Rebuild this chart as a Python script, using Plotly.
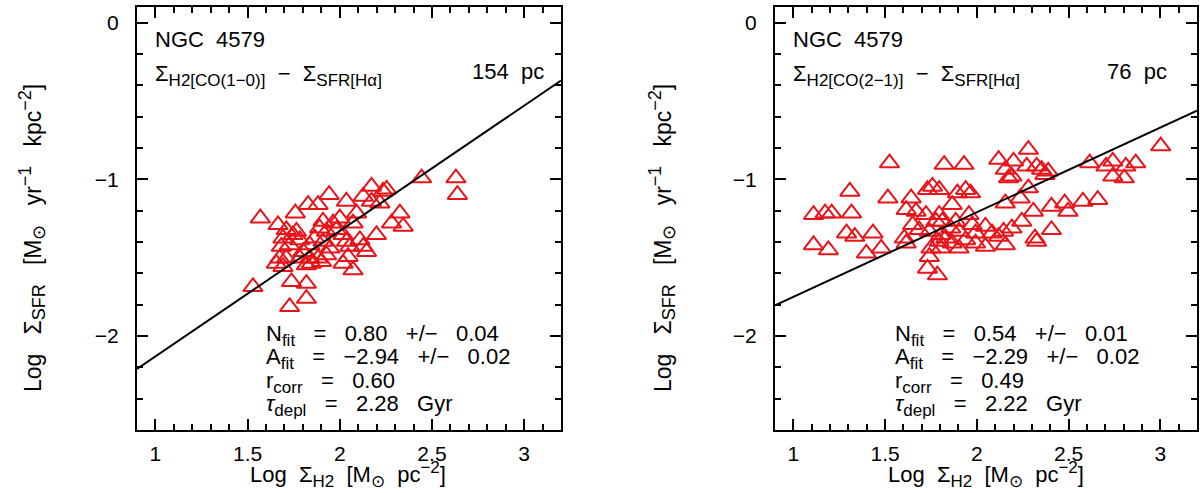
import plotly.graph_objects as go

# ---------------- data ----------------
# Left panel: CO(1-0), 154 pc
left_x = [1.569, 1.529, 1.728, 1.819, 1.738, 1.819, 1.665, 1.759, 1.828, 1.882,
          1.942, 2.036, 2.127, 2.172, 2.235, 2.254, 2.172, 2.217, 2.444, 2.630,
          2.638, 2.326, 2.281, 2.344, 2.199, 2.091, 2.072, 2.000, 1.964, 1.909,
          1.891, 1.928, 1.982, 2.018, 2.036, 2.109, 2.127, 2.145, 2.054, 2.045,
          2.018, 2.072, 1.946, 1.909, 1.864, 1.837, 1.801, 1.837, 1.882, 1.928,
          1.783, 1.746, 1.710, 1.692, 1.728, 1.765, 1.783, 1.683, 1.674, 1.656,
          1.710, 1.692, 1.819, 1.846, 1.901]
left_y = [-1.248, -1.686, -1.814, -1.761, -1.654, -1.665, -1.290, -1.216, -1.162, -1.162,
          -1.098, -1.141, -1.109, -1.045, -1.077, -1.064, -1.141, -1.152, -0.992, -0.992,
          -1.098, -1.216, -1.280, -1.301, -1.354, -1.216, -1.280, -1.248, -1.280, -1.269,
          -1.312, -1.333, -1.322, -1.354, -1.397, -1.387, -1.429, -1.462, -1.429, -1.494,
          -1.537, -1.579, -1.440, -1.397, -1.376, -1.419, -1.462, -1.504, -1.504, -1.483,
          -1.504, -1.354, -1.322, -1.376, -1.419, -1.333, -1.387, -1.429, -1.504, -1.537,
          -1.504, -1.558, -1.547, -1.537, -1.526]

# Right panel: CO(2-1), 76 pc
right_x = [1.110, 1.110, 1.191, 1.173, 1.209, 1.308, 1.317, 1.290, 1.335, 1.434,
           1.398, 1.479, 1.524, 1.515, 1.642, 1.615, 1.669, 1.605, 1.615, 1.731,
           1.758, 1.795, 1.822, 1.930, 1.894, 1.939, 1.966, 1.866, 1.723, 1.795,
           1.777, 1.812, 1.885, 1.957, 1.650, 1.686, 1.741, 1.804, 1.858, 1.903,
           1.975, 1.993, 2.047, 2.083, 1.795, 1.831, 1.866, 1.903, 1.939, 1.993,
           2.047, 2.119, 2.146, 2.191, 2.155, 1.750, 1.804, 1.741, 1.731, 1.785,
           2.119, 2.155, 2.200, 2.281, 2.272, 2.173, 2.191, 2.326, 2.353, 2.389,
           2.371, 2.281, 2.236, 2.155, 2.308, 2.245, 2.407, 2.317, 2.326, 2.407,
           2.479, 2.497, 2.578, 2.659, 2.615, 2.704, 2.741, 2.741, 2.804, 2.812,
           2.866, 3.002]
right_y = [-1.226, -1.419, -1.451, -1.216, -1.216, -1.077, -1.216, -1.344, -1.365, -1.344,
           -1.472, -1.440, -0.896, -1.120, -1.120, -1.194, -1.205, -1.376, -1.408, -1.066,
           -1.045, -1.066, -0.906, -0.906, -1.088, -1.066, -1.088, -1.162, -1.226, -1.226,
           -1.269, -1.269, -1.269, -1.226, -1.290, -1.322, -1.333, -1.354, -1.312, -1.333,
           -1.290, -1.344, -1.301, -1.344, -1.397, -1.376, -1.408, -1.440, -1.387, -1.408,
           -1.429, -1.365, -1.333, -1.312, -1.419, -1.440, -1.440, -1.494, -1.569, -1.611,
           -0.874, -0.938, -0.885, -0.810, -0.917, -0.992, -0.981, -0.917, -0.938, -0.949,
           -0.970, -1.056, -1.120, -1.152, -1.205, -1.269, -1.322, -1.376, -1.397, -1.173,
           -1.152, -1.205, -1.141, -1.130, -0.896, -0.917, -0.885, -0.981, -0.992, -0.917,
           -0.896, -0.788]

# fit parameters (slope N, intercept A)
left_fit = (0.80, -2.93)
right_fit = (0.54, -2.29)

x_range = [0.9, 3.2]
y_range = [-2.6, 0.1]
x_ticks = [1, 1.5, 2, 2.5, 3]
x_ticklabels = ["1", "1.5", "2", "2.5", "3"]
y_ticks = [0, -1, -2]

S = "\u00a0"
G2 = S + " "          # two-space gap
G3 = S + S + " "      # three-space gap


def sub(t, size=17):
    return f"<sub><span style='font-size:{size}px'>{t}</span></sub>"


def sup(t, size=17):
    return f"<sup><span style='font-size:{size}px'>{t}</span></sup>"


left_labels = [f"N{sub('fit')}{G3}={G3}0.80{G3}+/−{G3}0.04",
               f"A{sub('fit')}{G3}={G3}−2.94{G3}+/−{G3}0.02",
               f"r{sub('corr')}{G3}={G3}0.60",
               f"<i>τ</i>{sub('depl')}{G3}={G3}2.28{G3}Gyr"]
right_labels = [f"N{sub('fit')}{G3}={G3}0.54{G3}+/−{G3}0.01",
                f"A{sub('fit')}{G3}={G3}−2.29{G3}+/−{G3}0.02",
                f"r{sub('corr')}{G3}={G3}0.49",
                f"<i>τ</i>{sub('depl')}{G3}={G3}2.22{G3}Gyr"]
galaxy = f"NGC{G2}4579"
left_rel = f"Σ{sub('H2[CO(1−0)]')}{G2}−{G2}Σ{sub('SFR[Hα]')}"
right_rel = f"Σ{sub('H2[CO(2−1)]')}{G2}−{G2}Σ{sub('SFR[Hα]')}"
left_res = f"154{G2}pc"
right_res = f"76{G2}pc"
xtitle = f"Log{G2}Σ{sub('H2')}{G2}[M{sub('⊙')}{G2}pc{sup('−2')}]"
ytitle = (f"Log{G3}Σ{sub('SFR', 18)}{G3}[M{sub('⊙', 18)}{G3}yr{sup('−1', 18)}"
          f"{G3}kpc{sup('−2', 18)}]")

# ---------------- figure ----------------
W, H = 1200, 493
FONT = "Liberation Sans, Arial, Helvetica, sans-serif"
RED = "#e8141a"


def px(x):
    return x / W


def py(y):
    return 1 - y / H


fig = go.Figure()

for i, (xs, ys, fit) in enumerate([(left_x, left_y, left_fit), (right_x, right_y, right_fit)]):
    xa = "x" if i == 0 else "x2"
    ya = "y" if i == 0 else "y2"
    fig.add_trace(go.Scatter(x=xs, y=ys, mode="markers", xaxis=xa, yaxis=ya,
                             marker=dict(symbol="triangle-up-open", size=17, color=RED,
                                         line=dict(width=2, color=RED)),
                             showlegend=False, hoverinfo="skip"))
    lx = list(x_range)
    fig.add_trace(go.Scatter(x=lx, y=[fit[0] * v + fit[1] for v in lx], mode="lines",
                             xaxis=xa, yaxis=ya, line=dict(color="black", width=2),
                             showlegend=False, hoverinfo="skip"))

dom_y = [py(430), py(7)]
axis_common = dict(showline=True, linecolor="black", linewidth=2, mirror="ticks",
                   ticks="inside", ticklen=11, tickwidth=1.5, tickcolor="black",
                   showgrid=False, zeroline=False,
                   tickfont=dict(family=FONT, size=21, color="black"))
xaxis_common = dict(axis_common, range=x_range, tickvals=x_ticks, ticktext=x_ticklabels,
                    minor=dict(dtick=0.1, ticks="inside", ticklen=6, tickwidth=1.5,
                               tickcolor="black", showgrid=False),
                    ticklabelstandoff=4)
yaxis_common = dict(axis_common, range=y_range, tickvals=y_ticks,
                    minor=dict(dtick=0.2, ticks="inside", ticklen=6, tickwidth=1.5,
                               tickcolor="black", showgrid=False),
                    ticklabelstandoff=12)

fig.update_layout(
    width=W, height=H, margin=dict(l=0, r=0, t=0, b=0),
    paper_bgcolor="white", plot_bgcolor="white",
    font=dict(family=FONT, size=21, color="black"),
    xaxis=dict(xaxis_common, domain=[px(137), px(561)], anchor="y"),
    yaxis=dict(yaxis_common, domain=dom_y, anchor="x"),
    xaxis2=dict(xaxis_common, domain=[px(775), px(1197)], anchor="y2"),
    yaxis2=dict(yaxis_common, domain=dom_y, anchor="x2"),
)

ann = []


def add(text, x, y, xanchor="left", yanchor="middle", angle=0, size=22):
    ann.append(dict(text=text, x=px(x), y=py(y), xref="paper", yref="paper",
                    xanchor=xanchor, yanchor=yanchor, showarrow=False, textangle=angle,
                    borderpad=0, font=dict(family=FONT, size=size, color="black")))


for off, rel, res, labels, resx, tx in [(0, left_rel, left_res, left_labels, 545, 265),
                                         (638, right_rel, right_res, right_labels, 1168, 894)]:
    add(galaxy, 154 + off, 39)
    add(rel, 154 + off, 76)
    add(res, resx, 71, xanchor="right")
    for k, lab in enumerate(labels):
        add(lab, tx, 335 + 23.5 * k)

add(xtitle, 348, 492, xanchor="center", yanchor="bottom")
add(xtitle, 986, 492, xanchor="center", yanchor="bottom")
add(ytitle, 32, 238, xanchor="center", angle=-90, size=23)
add(ytitle, 662, 238, xanchor="center", angle=-90, size=23)

fig.update_layout(annotations=ann)
fig.write_html("out.html", config={"displayModeBar": False},
               post_script="document.body.style.margin='0px';document.body.style.padding='0px';")
